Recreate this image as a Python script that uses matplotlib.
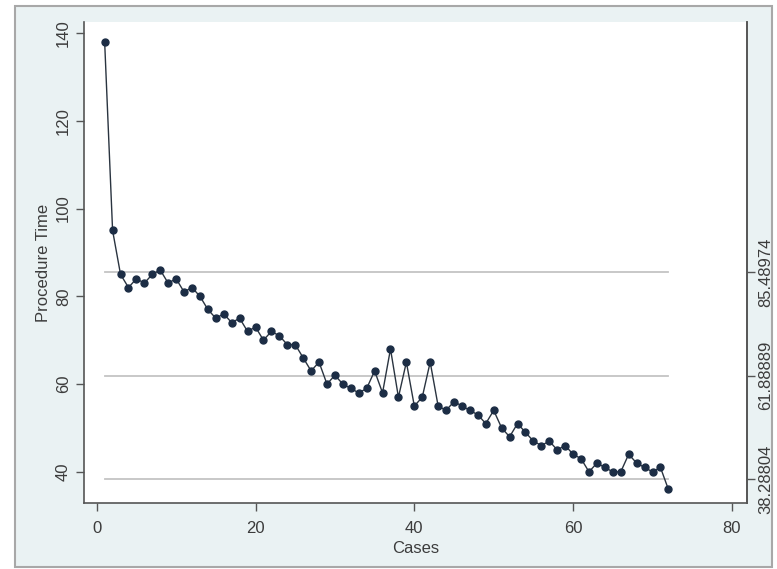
import matplotlib
matplotlib.use("Agg")
import matplotlib.pyplot as plt
from matplotlib.patches import Rectangle

plt.rcParams['font.family'] = ['Liberation Sans', 'DejaVu Sans']

cases = list(range(1, 73))
procedure_time = [138, 95, 85, 82, 84, 83, 85, 86, 83, 84,
                  81, 82, 80, 77, 75, 76, 74, 75, 72, 73,
                  70, 72, 71, 69, 69, 66, 63, 65, 60, 62,
                  60, 59, 58, 59, 63, 58, 68, 57, 65, 55,
                  57, 65, 55, 54, 56, 55, 54, 53, 51, 54,
                  50, 48, 51, 49, 47, 46, 47, 45, 46, 44,
                  43, 40, 42, 41, 40, 40, 44, 42, 41, 40, 41, 36]
ref_levels = [38.28804, 61.88889, 85.48974]
ref_labels = ["38.28804", "61.88889", "85.48974"]
y_ticks = [40, 60, 80, 100, 120, 140]
x_ticks = [0, 20, 40, 60, 80]

bg = "#eaf2f3"
txt = "#3c3c3c"
fig = plt.figure(figsize=(7.77, 5.69), dpi=100)
fig.patch.set_facecolor("white")
frame = Rectangle((15/777, 2/569), 757/777, 561/569, transform=fig.transFigure,
                  facecolor=bg, edgecolor="#a8a8a8", lw=1.5, zorder=-10)
fig.patches.append(frame)

ax = fig.add_axes([84/777, 1 - 503/569, (747 - 84)/777, (503 - 22)/569])
ax.set_zorder(1)
ax.set_facecolor("white")

for lvl in ref_levels:
    ax.plot([cases[0], cases[-1]], [lvl, lvl], color="#c4c4c4", lw=1.3, zorder=1)

ax.plot(cases, procedure_time, color="#2a3440", lw=1.0, marker="o", markersize=5,
        markerfacecolor="#1c2d45", markeredgecolor="#1c2d45", zorder=3)

ax.set_xlim(-1.6, 81.9)
ax.set_ylim(32.9, 142.5)
ax.set_xticks(x_ticks)
ax.set_yticks(y_ticks)
ax.set_yticklabels([str(v) for v in y_ticks], rotation=90, va="center")
ax.tick_params(axis="both", direction="out", length=5.8, width=1, color="#555555",
               labelsize=12, labelcolor=txt)
ax.tick_params(axis="x", pad=7)
for s in ["left", "bottom", "right"]:
    ax.spines[s].set_color("#555555")
    ax.spines[s].set_linewidth(1.2)
ax.spines["top"].set_visible(False)
ax.set_xlabel("Cases", fontsize=12, color=txt, labelpad=4)
ax.set_ylabel("Procedure Time", fontsize=12, color=txt, labelpad=4)

ax2 = ax.twinx()
ax2.set_ylim(ax.get_ylim())
ax2.set_yticks(ref_levels)
ax2.set_yticklabels(ref_labels, rotation=90, va="center")
ax2.tick_params(axis="y", direction="out", length=5.8, width=1, color="#555555",
                labelsize=12, labelcolor=txt, pad=2.5)
for s in ["left", "bottom", "top"]:
    ax2.spines[s].set_visible(False)
ax2.spines["right"].set_color("#555555")
ax2.spines["right"].set_linewidth(1.2)

fig.savefig("out.png", dpi=100, facecolor=fig.get_facecolor())
